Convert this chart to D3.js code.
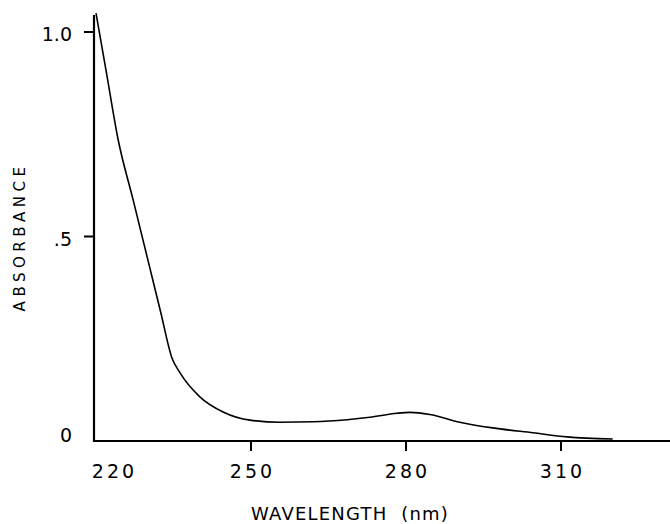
<!DOCTYPE html>
<html>
<head>
<meta charset="utf-8">
<script src="https://cdn.jsdelivr.net/npm/d3@7"></script>
<style>
  body { margin: 0; background: #fff; }
  text { font-family: "DejaVu Sans", sans-serif; fill: #000; }
</style>
</head>
<body>
<div id="chart"></div>
<script>
var width = 670,
    height = 524;

// spectrum
var wavelength = [220, 222, 224.3, 227.2, 230.5, 232.5, 234.7, 236.3, 240.1, 244.6, 249.8, 255.6, 262, 268.6, 273, 278.3, 280.8, 284.6, 290.4, 296.8, 304.6, 311.2, 320];
var absorbance = [1.046, 0.902, 0.736, 0.589, 0.419, 0.316, 0.203, 0.166, 0.108, 0.071, 0.051, 0.046, 0.047, 0.052, 0.058, 0.068, 0.070, 0.065, 0.046, 0.032, 0.020, 0.010, 0.005];

var xTicks = [220, 250, 280, 310];
var yTicks = [0, 0.5, 1.0];
var yTickLabels = ["0", ".5", "1.0"];

var x = d3.scaleLinear().domain([220, 310]).range([96, 561]);
var y = d3.scaleLinear().domain([0, 1]).range([441, 32]);

var svg = d3.select("#chart").append("svg")
    .attr("width", width)
    .attr("height", height);

var x0 = x(220) - 2;

// x axis line runs to the right edge
svg.append("line")
    .attr("x1", x0).attr("x2", width)
    .attr("y1", y(0)).attr("y2", y(0))
    .attr("stroke", "#000").attr("stroke-width", 2.2);

// y axis line
svg.append("line")
    .attr("x1", x0).attr("x2", x0)
    .attr("y1", 15).attr("y2", y(0) + 1)
    .attr("stroke", "#000").attr("stroke-width", 2.2);

// x ticks (none at 220, the y axis sits there)
svg.selectAll(".xtick")
    .data(xTicks.slice(1))
  .enter().append("line")
    .attr("class", "xtick")
    .attr("x1", function(d) { return x(d); })
    .attr("x2", function(d) { return x(d); })
    .attr("y1", y(0)).attr("y2", y(0) + 10)
    .attr("stroke", "#000").attr("stroke-width", 2);

svg.selectAll(".xlabel")
    .data(xTicks)
  .enter().append("text")
    .attr("class", "xlabel")
    .attr("x", function(d) { return x(d) + (d == 220 ? 17 : 0) + 1.5; })
    .attr("y", 478)
    .attr("text-anchor", "middle")
    .style("font-size", "19px")
    .style("letter-spacing", "3px")
    .text(function(d) { return d; });

// y ticks
svg.selectAll(".ytick")
    .data(yTicks.slice(1))
  .enter().append("line")
    .attr("class", "ytick")
    .attr("x1", x0 - 10).attr("x2", x0)
    .attr("y1", function(d) { return y(d); })
    .attr("y2", function(d) { return y(d); })
    .attr("stroke", "#000").attr("stroke-width", 2);

svg.selectAll(".ylabel")
    .data(yTicks)
  .enter().append("text")
    .attr("class", "ylabel")
    .attr("x", 72)
    .attr("y", function(d) { return y(d) + (d == 0 ? 1 : 9); })
    .attr("text-anchor", "end")
    .style("font-size", "19px")
    .text(function(d, i) { return yTickLabels[i]; });

// axis titles
svg.append("text")
    .attr("x", 350)
    .attr("y", 520)
    .attr("text-anchor", "middle")
    .style("font-size", "18px")
    .style("letter-spacing", "1.2px")
    .style("white-space", "pre")
    .text("WAVELENGTH  (nm)");

svg.append("text")
    .attr("transform", "translate(25,237)rotate(-90)")
    .attr("text-anchor", "middle")
    .style("font-size", "15px")
    .style("letter-spacing", "4.5px")
    .text("ABSORBANCE");

// the spectrum
var line = d3.line()
    .x(function(d, i) { return x(wavelength[i]); })
    .y(function(d) { return y(d); })
    .curve(d3.curveMonotoneX);

svg.append("path")
    .datum(absorbance)
    .attr("d", line)
    .attr("fill", "none")
    .attr("stroke", "#000")
    .attr("stroke-width", 1.6);
</script>
</body>
</html>
